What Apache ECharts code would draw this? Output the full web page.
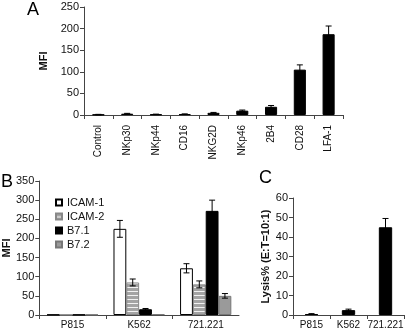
<!DOCTYPE html>
<html>
<head>
<meta charset="utf-8">
<script src="https://cdn.jsdelivr.net/npm/echarts@6/dist/echarts.min.js"></script>
<style>
  html, body { margin: 0; padding: 0; background: #fff; }
  #chart { width: 410px; height: 330px; }
</style>
</head>
<body>
<div id="chart"></div>
<script>
// panel A: receptor expression
const catsA = ["Control", "NKp30", "NKp44", "CD16", "NKG2D", "NKp46", "2B4", "CD28", "LFA-1"];
const mfiA = [1, 3, 1.5, 2, 5, 10, 19, 105, 187];
const errA = [0.5, 0.8, 0.5, 0.5, 1, 1.5, 3, 11, 19];

// panel B: ligand expression on targets
const catsB = ["P815", "K562", "721.221"];
const icam1 = [1, 225, 122];
const icam1Err = [0, 22, 12];
const icam2 = [1, 85, 80];
const icam2Err = [0, 9, 9];
const b71 = [1, 15, 272];
const b71Err = [0, 2, 28];
const b72 = [1, 2, 50];
const b72Err = [0, 0, 6];

// panel C: lysis
const catsC = ["P815", "K562", "721.221"];
const lysisC = [0.5, 2.5, 45];
const lysisErr = [0.2, 0.5, 4.5];

const font = "Liberation Sans, Arial, sans-serif";

// striped fill for ICAM-2
const stripe = document.createElement("canvas");
stripe.width = 4;
stripe.height = 4;
const sctx = stripe.getContext("2d");
sctx.fillStyle = "#f2f2f2";
sctx.fillRect(0, 0, 4, 4);
sctx.fillStyle = "#a4a4a4";
sctx.fillRect(0, 0, 4, 3);

const errData = (vals, errs) => vals.map((v, i) => [i, v - errs[i], v + errs[i]]);

// offsetOf(band) -> pixel shift of the bar centre inside its category
function errRender(offsetOf) {
  return function (params, api) {
    const x = api.value(0);
    const lo = api.coord([x, api.value(1)]);
    const hi = api.coord([x, api.value(2)]);
    const band = api.size([1, 0])[0];
    const cx = lo[0] + offsetOf(band);
    const cap = 3;
    const style = { stroke: "#000", lineWidth: 1 };
    return {
      type: "group",
      children: [
        { type: "line", shape: { x1: cx, y1: hi[1], x2: cx, y2: lo[1] }, style: style },
        { type: "line", shape: { x1: cx - cap, y1: hi[1], x2: cx + cap, y2: hi[1] }, style: style },
        { type: "line", shape: { x1: cx - cap, y1: lo[1], x2: cx + cap, y2: lo[1] }, style: style },
      ],
    };
  };
}

const gapB = 0.23;
const groupOffset = (i) => (band) => {
  const w = (band * (1 - gapB)) / 4;
  return -2 * w + w * (i + 0.5);
};

const axisLine = { lineStyle: { color: "#444", width: 1 } };
const tickLabel = { color: "#111", fontSize: 11, fontFamily: font };

function catAxis(idx, data, extra) {
  return Object.assign({
    type: "category",
    gridIndex: idx,
    data: data,
    axisLine: axisLine,
    axisTick: { show: true, length: 4, lineStyle: { color: "#444" } },
    axisLabel: Object.assign({}, tickLabel, { fontSize: 10, margin: 5, interval: 0, hideOverlap: false }),
  }, extra || {});
}

function valAxis(idx, max, interval, name, gap) {
  return {
    type: "value",
    gridIndex: idx,
    min: 0,
    max: max,
    interval: interval,
    name: name,
    nameLocation: "middle",
    nameGap: gap,
    nameTextStyle: { color: "#111", fontSize: 11, fontWeight: "bold", fontFamily: font },
    axisLine: { show: true, lineStyle: { color: "#444", width: 1 } },
    axisTick: { show: true, length: 4, lineStyle: { color: "#444" } },
    axisLabel: Object.assign({}, tickLabel, { margin: 5 }),
    splitLine: { show: false },
  };
}

const blackBar = { color: "#000", borderColor: "#000", borderWidth: 1 };

const option = {
  backgroundColor: "#fff",
  animation: false,
  textStyle: { fontFamily: font },
  graphic: [
    { type: "text", left: 27, top: 1, style: { text: "A", fontSize: 18, fill: "#000", fontFamily: font } },
    { type: "text", left: 1, top: 173, style: { text: "B", fontSize: 18, fill: "#000", fontFamily: font } },
    { type: "text", left: 259, top: 169, style: { text: "C", fontSize: 18, fill: "#000", fontFamily: font } },
  ],
  legend: {
    data: ["ICAM-1", "ICAM-2", "B7.1", "B7.2"],
    orient: "vertical",
    left: 50,
    top: 192,
    icon: "rect",
    itemWidth: 6,
    itemHeight: 6,
    itemGap: 3,
    textStyle: { color: "#111", fontSize: 11, fontFamily: font },
  },
  grid: [
    { left: 84, right: 67, top: 7, bottom: 215 },
    { left: 36, right: 171, top: 181, bottom: 15 },
    { left: 293, right: 6, top: 198, bottom: 15 },
  ],
  xAxis: [
    catAxis(0, catsA, { axisLabel: Object.assign({}, tickLabel, { fontSize: 10, rotate: 90, margin: 10, interval: 0 }) }),
    catAxis(1, catsB),
    catAxis(2, catsC),
  ],
  yAxis: [
    valAxis(0, 250, 50, "MFI", 30),
    valAxis(1, 350, 50, "MFI", 24),
    valAxis(2, 60, 10, "Lysis% (E:T=10:1)", 20),
  ],
  series: [
    { name: "A", type: "bar", xAxisIndex: 0, yAxisIndex: 0, data: mfiA, barCategoryGap: "58%", itemStyle: blackBar },
    { type: "custom", xAxisIndex: 0, yAxisIndex: 0, z: 5, renderItem: errRender(() => 0),
      encode: { x: 0, y: [1, 2] }, data: errData(mfiA, errA) },

    { name: "ICAM-1", type: "bar", xAxisIndex: 1, yAxisIndex: 1, data: icam1, barGap: 0, barCategoryGap: gapB * 100 + "%",
      itemStyle: { color: "#fff", borderColor: "#000", borderWidth: 1 } },
    { name: "ICAM-2", type: "bar", xAxisIndex: 1, yAxisIndex: 1, data: icam2, barGap: 0, barCategoryGap: gapB * 100 + "%",
      itemStyle: { color: { image: stripe, repeat: "repeat" }, borderColor: "#888", borderWidth: 1 } },
    { name: "B7.1", type: "bar", xAxisIndex: 1, yAxisIndex: 1, data: b71, barGap: 0, barCategoryGap: gapB * 100 + "%",
      itemStyle: blackBar },
    { name: "B7.2", type: "bar", xAxisIndex: 1, yAxisIndex: 1, data: b72, barGap: 0, barCategoryGap: gapB * 100 + "%",
      itemStyle: { color: "#9a9a9a", borderColor: "#777", borderWidth: 1 } },
    { type: "custom", xAxisIndex: 1, yAxisIndex: 1, z: 5, renderItem: errRender(groupOffset(0)),
      encode: { x: 0, y: [1, 2] }, data: errData(icam1, icam1Err).slice(1) },
    { type: "custom", xAxisIndex: 1, yAxisIndex: 1, z: 5, renderItem: errRender(groupOffset(1)),
      encode: { x: 0, y: [1, 2] }, data: errData(icam2, icam2Err).slice(1) },
    { type: "custom", xAxisIndex: 1, yAxisIndex: 1, z: 5, renderItem: errRender(groupOffset(2)),
      encode: { x: 0, y: [1, 2] }, data: errData(b71, b71Err).slice(1) },
    { type: "custom", xAxisIndex: 1, yAxisIndex: 1, z: 5, renderItem: errRender(groupOffset(3)),
      encode: { x: 0, y: [1, 2] }, data: errData(b72, b72Err).slice(2) },

    { name: "C", type: "bar", xAxisIndex: 2, yAxisIndex: 2, data: lysisC, barCategoryGap: "64%", itemStyle: blackBar },
    { type: "custom", xAxisIndex: 2, yAxisIndex: 2, z: 5, renderItem: errRender(() => 0),
      encode: { x: 0, y: [1, 2] }, data: errData(lysisC, lysisErr) },
  ],
};

const chart = echarts.init(document.getElementById("chart"));
chart.setOption(option);
</script>
</body>
</html>
